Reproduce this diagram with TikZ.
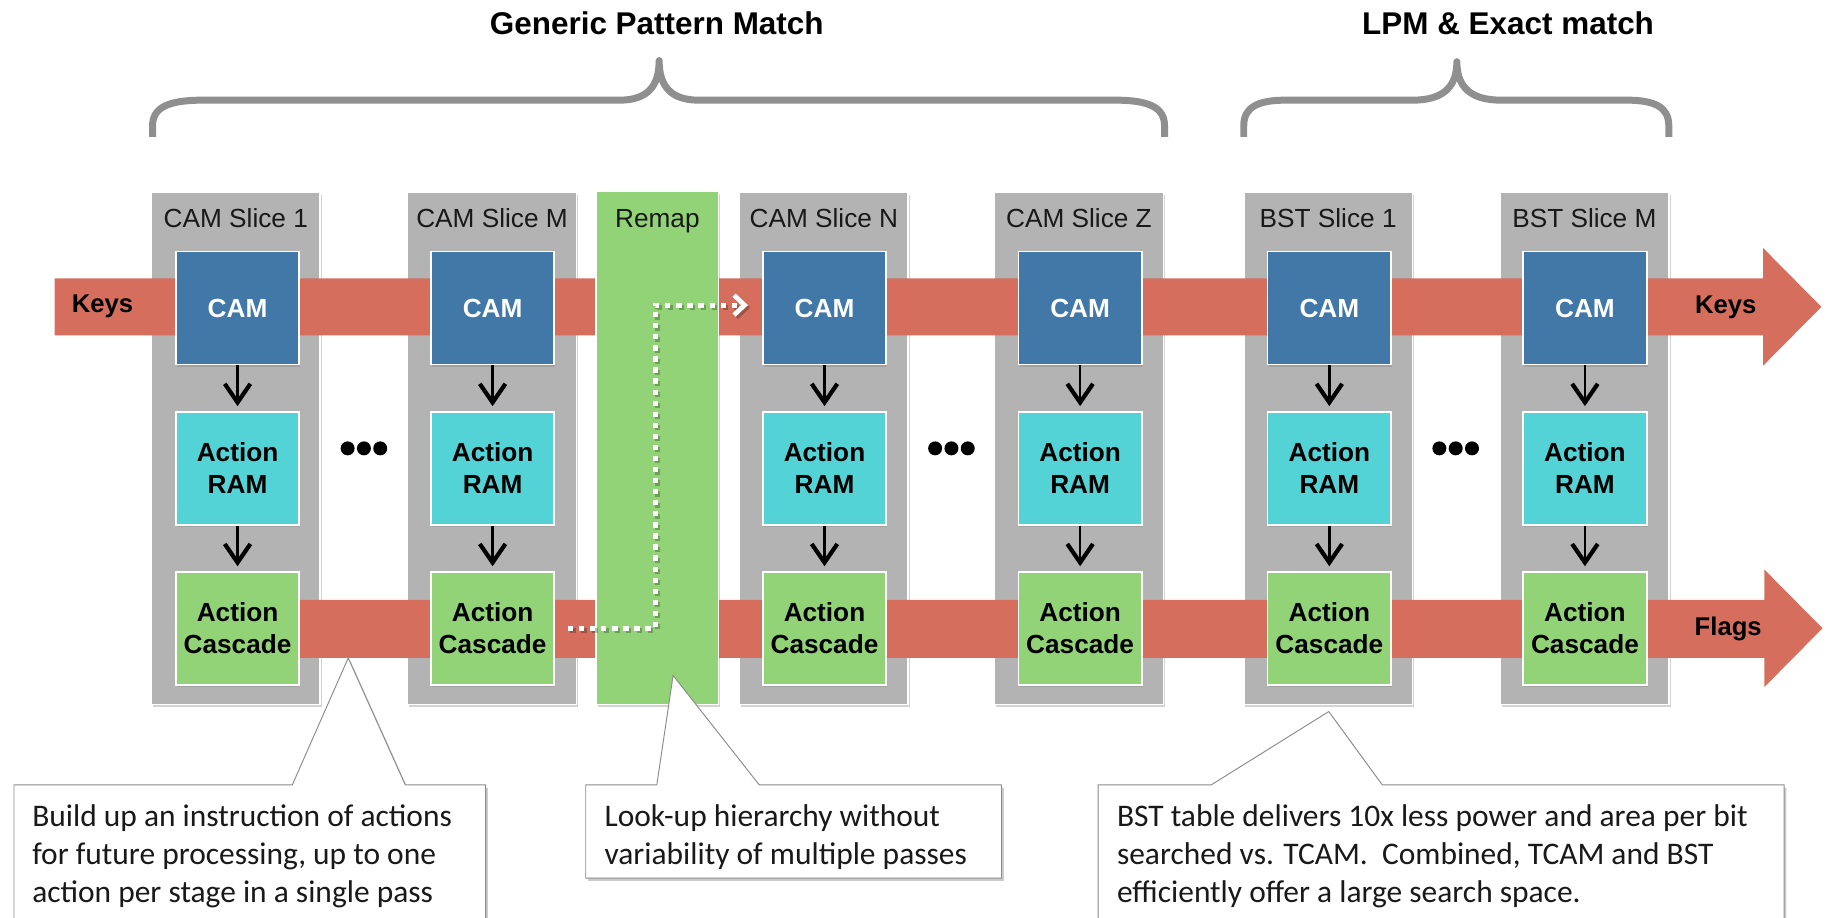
\documentclass[tikz,border=0pt]{standalone}
\usepackage{fontspec}
\newfontfamily\hv{Liberation Sans}
\newfontfamily\cb{Carlito}
\usetikzlibrary{arrows.meta,shadows}
\definecolor{bandred}{HTML}{D66E5E}
\definecolor{camblue}{HTML}{4178A8}
\definecolor{ramcyan}{HTML}{54D3D6}
\definecolor{casgreen}{HTML}{93D378}
\definecolor{slicegray}{HTML}{B3B3B3}
\definecolor{bracegray}{HTML}{8F8F8F}
\definecolor{notegray}{HTML}{8A8A8A}
\begin{document}
\begin{tikzpicture}[x=1pt,y=-1pt,
  slicebox/.style={draw=white, line width=1.5pt, fill=slicegray,
    minimum width=145pt, minimum height=440pt, inner sep=0pt,
    drop shadow={opacity=0.35, shadow xshift=1.5pt, shadow yshift=-2.5pt}},
  slicetitle/.style={anchor=base, font=\hv\fontsize{22.5}{26}\selectfont, text=black!90, inner sep=0pt},
  innerbox/.style={draw=white, line width=1.5pt, minimum width=106pt,
    minimum height=97pt, inner sep=0pt, align=center,
    font=\hv\bfseries\fontsize{22.5}{27}\selectfont,
    drop shadow={opacity=0.35, shadow xshift=1pt, shadow yshift=-2pt}},
  cambox/.style={innerbox, fill=camblue, text=white},
  rambox/.style={innerbox, fill=ramcyan, text=black},
  casbox/.style={innerbox, fill=casgreen, text=black},
  arr/.style={line width=2pt, -{Straight Barb[length=16pt,width=22pt,line width=3.6pt]}},
  bandlabel/.style={font=\hv\bfseries\fontsize{22}{26}\selectfont, inner sep=0pt},
  bigtitle/.style={font=\hv\bfseries\fontsize{27}{32}\selectfont, inner sep=0pt},
  brace/.style={draw=bracegray, line width=6pt, line join=round},
  dotbase/.style={line width=4.3pt, dash pattern=on 4.5pt off 5pt,
    -{Straight Barb[length=9pt,width=17pt,line width=4pt]}},
  note/.style={fill=white, draw=notegray, line width=0.8pt,
    drop shadow={opacity=0.4, shadow xshift=2pt, shadow yshift=-2.5pt}},
  notetext/.style={anchor=base west, align=left, inner sep=0pt,
    font=\cb\fontsize{27}{32.5}\selectfont, text=black!90}
]
\useasboundingbox (0,0) rectangle (1568,788);
\clip (0,0) rectangle (1568,788);

% group headings and braces
\node[bigtitle] (gpm) at (564,20) {Generic Pattern Match};
\node[bigtitle] (lpm) at (1295,20) {LPM \& Exact match};
\draw[brace] (131,117.5) -- (131,108) .. controls (131,92) and (145,86) .. (174,86)
  -- (532,86) .. controls (556,86) and (566,74) .. (566,52)
  .. controls (566,74) and (576,86) .. (600,86) -- (958,86)
  .. controls (986,86) and (1000,92) .. (1000,108) -- (1000,117.5);
\draw[brace] (1068,117.5) -- (1068,108) .. controls (1068,92) and (1080,86) .. (1104,86)
  -- (1213,86) .. controls (1240,86) and (1251,74) .. (1251,53)
  .. controls (1251,74) and (1262,86) .. (1289,86) -- (1397,86)
  .. controls (1421,86) and (1433,92) .. (1433,108) -- (1433,117.5);

% slice columns
\foreach \id/\x/\ttl in {a/202.5/{CAM Slice 1}, b/422.5/{CAM Slice M},
    c/707.5/{CAM Slice N}, d/926.5/{CAM Slice Z},
    e/1140.5/{BST Slice 1}, f/1360.5/{BST Slice M}} {
  \node[slicebox] (slice\id) at (\x,385) {};
  \node[slicetitle] (title\id) at (\x,195) {\ttl};
}

% key and flag buses
\fill[bandred] (47,239) -- (1514,239) -- (1514,213) -- (1564,263.5)
  -- (1514,314) -- (1514,288) -- (47,288) -- cycle;
\fill[bandred] (204,515) -- (1515,515) -- (1515,489) -- (1565,539.5)
  -- (1515,590) -- (1515,565) -- (204,565) -- cycle;
\node[bandlabel] (keysin) at (88,263) {Keys};
\node[bandlabel] (keysout) at (1482,264) {Keys};
\node[bandlabel] (flags) at (1484,540) {Flags};

% remap stage
\node[slicebox, minimum width=105pt, minimum height=441pt, fill=casgreen] (remap) at (564.5,384.5) {};
\node[slicetitle] (remaptitle) at (564.5,195) {Remap};

% per-slice pipeline
\foreach \id/\x in {a/204, b/423, c/708, d/927.5, e/1141.5, f/1361} {
  \node[cambox] (cam\id) at (\x,264.5) {CAM};
  \node[rambox] (ram\id) at (\x,402) {Action\\RAM};
  \node[casbox] (cas\id) at (\x,539.5) {Action\\Cascade};
  \draw[arr] (cam\id.south) -- ([yshift=4pt]ram\id.north);
  \draw[arr] (ram\id.south) -- ([yshift=4pt]cas\id.north);
}

% ellipses between slices
\foreach \x in {312.5, 817, 1250} {
  \foreach \d in {-14,0,14} {
    \fill (\x+\d,385) circle (6pt);
  }
}

% remapped path from cascade M to CAM N
\draw[dotbase, black, opacity=0.25, transform canvas={xshift=2pt,yshift=-2pt}]
  ([xshift=11pt]casb.east) -- ++(75,0) |- ([xshift=-12pt,yshift=2.5pt]camc.west);
\draw[dotbase, white]
  ([xshift=11pt]casb.east) -- ++(75,0) |- ([xshift=-12pt,yshift=2.5pt]camc.west);

% callouts
\coordinate (tipA) at (299,565);
\coordinate (tipB) at (578,580);
\coordinate (tipC) at (1141,611);
\filldraw[note] (12,674) -- (251,674) -- (tipA) -- (348,674) -- (417,674)
  -- (417,800) -- (12,800) -- cycle;
\filldraw[note] (503,674) -- (564,674) -- (tipB) -- (652,674) -- (860,674)
  -- (860,754) -- (503,754) -- cycle;
\filldraw[note] (943,674) -- (1040,674) -- (tipC) -- (1187,674) -- (1532,674)
  -- (1532,800) -- (943,800) -- cycle;
% base anchor sits on the last line
\node[notetext] (noteA) at (27.5,775)
  {Build up an instruction of actions\\for future processing, up to one\\action per stage in a single pass};
\node[notetext] (noteB) at (519,742.5)
  {Look-up hierarchy without\\variability of multiple passes};
\node[notetext] (noteC) at (959,775)
  {BST table delivers 10x less power and area per bit\\searched vs. TCAM.\ \ Combined, TCAM and BST\\efficiently offer a large search space.};
\end{tikzpicture}
\end{document}
